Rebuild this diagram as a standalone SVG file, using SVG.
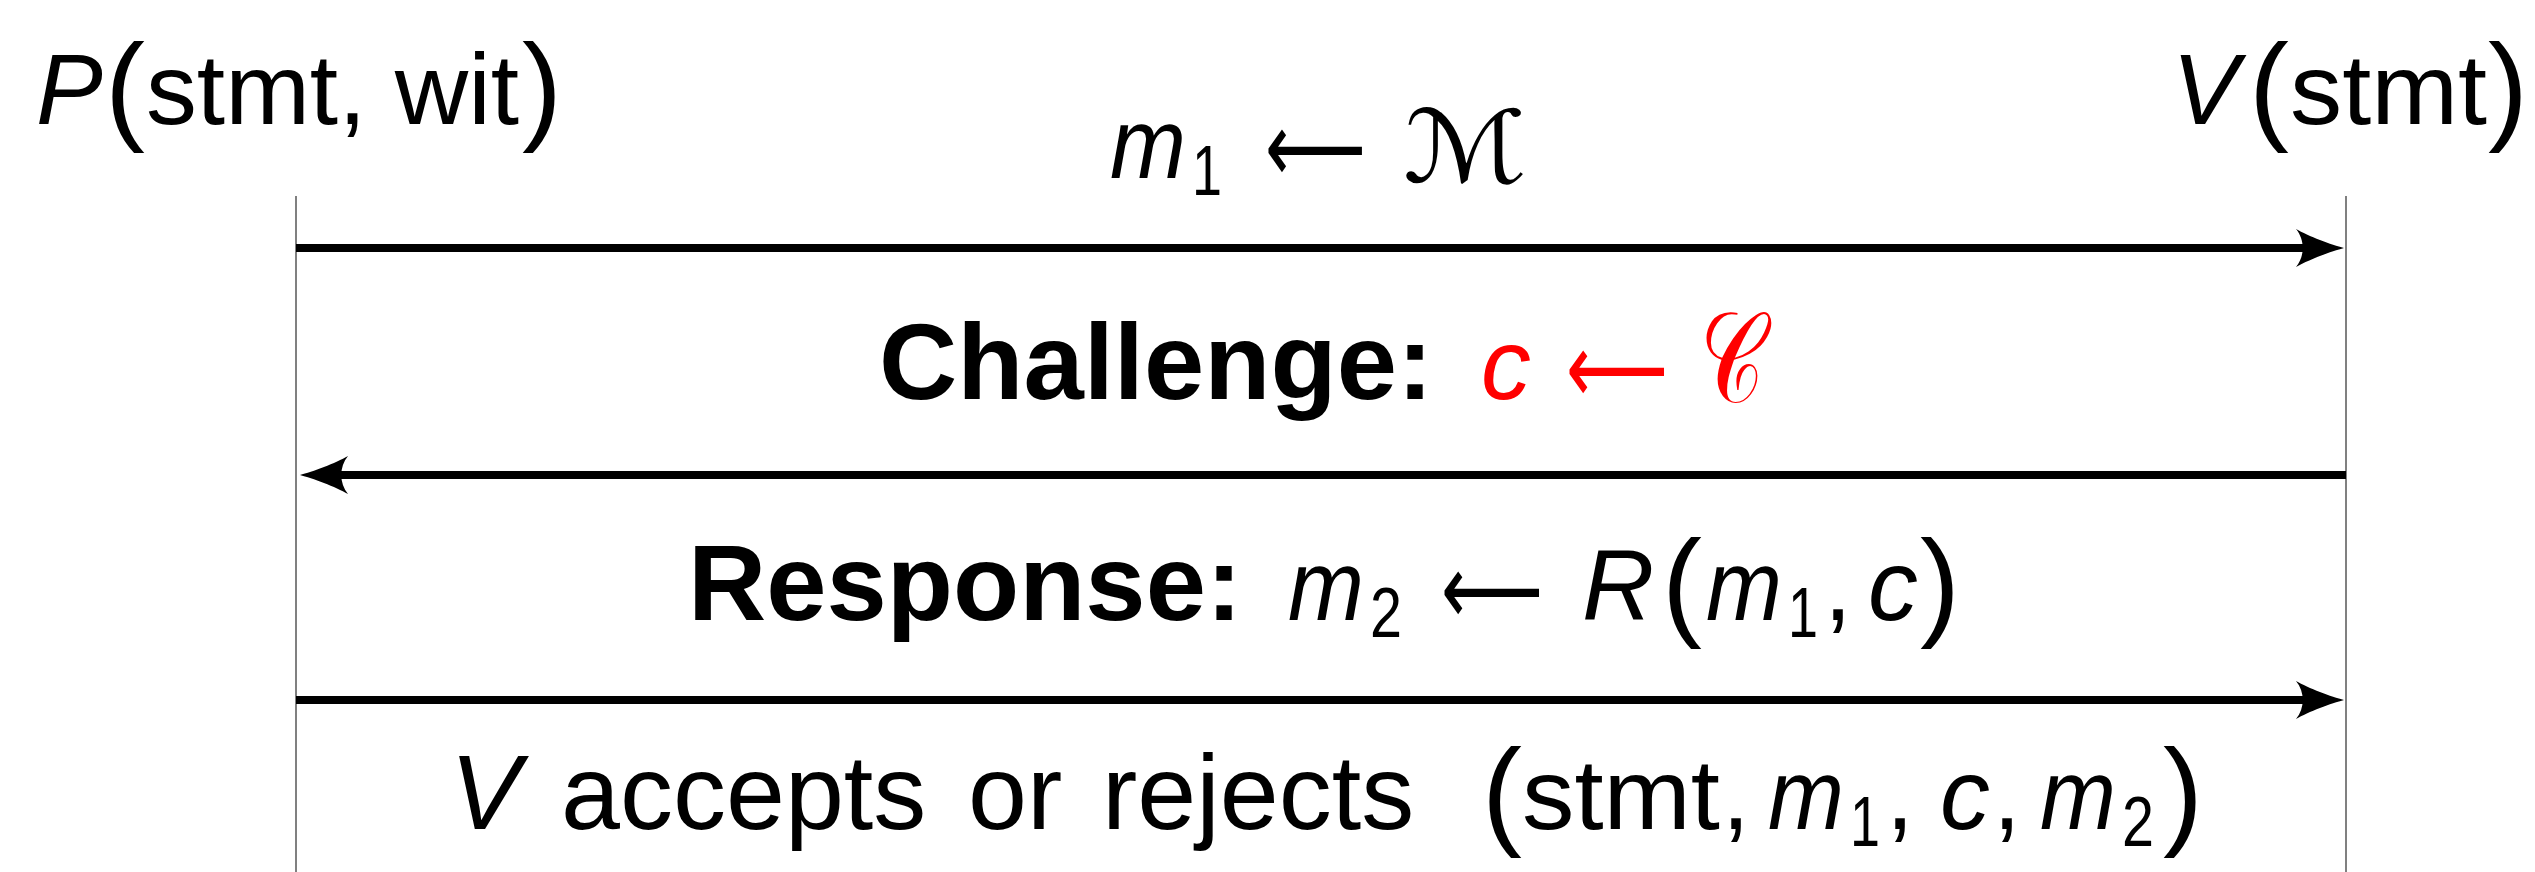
<svg xmlns="http://www.w3.org/2000/svg" width="2535" height="872" viewBox="0 0 2535 872">
<style>
text{font-family:"Liberation Sans",Arial,sans-serif;fill:#000;font-size:100px}
.w{font-size:106px}
.i{font-style:italic}
.b{font-size:107px;font-weight:bold}
.par{font-size:120px}
.sub{font-size:70px}
.arr{font-family:"DejaVu Sans",sans-serif;font-size:100px}
.cal{font-family:"DejaVu Serif","DejaVu Sans",serif;font-size:100px}
.calc{font-size:128px}
.red{fill:#ff0000}
.life{stroke:#808080;stroke-width:2;fill:none}
.msg{stroke:#000;stroke-width:8;fill:none;marker-end:url(#ah)}
</style>
<defs>
<marker id="ah" markerUnits="userSpaceOnUse" markerWidth="50" markerHeight="40" viewBox="0 -20 50 40" refX="20" refY="0" orient="auto">
<path d="M48,0 C36,-3 12,-12 0,-19 C9,-8 9,8 0,19 C12,12 36,3 48,0 Z" fill="#000"/>
</marker>
</defs>
<rect width="2535" height="872" fill="#fff"/>
<g id="prover">
<line class="life" x1="296" y1="196" x2="296" y2="872"/>
<text y="124"><tspan class="i" x="36">P</tspan><tspan class="par" x="105" y="128">(</tspan><tspan x="146" y="124" textLength="373" lengthAdjust="spacingAndGlyphs">stmt, wit</tspan><tspan class="par" x="522" y="128">)</tspan></text>
</g>
<g id="verifier">
<line class="life" x1="2346" y1="196" x2="2346" y2="872"/>
<text y="124"><tspan class="i" x="2172">V</tspan><tspan class="par" x="2249" y="128">(</tspan><tspan x="2290" y="124" textLength="197" lengthAdjust="spacingAndGlyphs">stmt</tspan><tspan class="par" x="2488" y="128">)</tspan></text>
</g>
<g id="connectors">
<line class="msg" x1="296" y1="248" x2="2316" y2="248"/>
<line class="msg" x1="2346" y1="475" x2="328" y2="475"/>
<line class="msg" x1="296" y1="700" x2="2316" y2="700"/>
</g>
<g id="msg1-label">
<text y="178"><tspan class="i" x="1110" textLength="76" lengthAdjust="spacingAndGlyphs">m</tspan><tspan class="sub" x="1192" y="195" textLength="30" lengthAdjust="spacingAndGlyphs">1</tspan><tspan class="arr" x="1265" y="182" textLength="101" lengthAdjust="spacingAndGlyphs">⟵</tspan><tspan class="cal" x="1403" y="182" textLength="124" lengthAdjust="spacingAndGlyphs">ℳ</tspan></text>
</g>
<g id="challenge-label">
<text y="399"><tspan class="b" x="879" textLength="554" lengthAdjust="spacingAndGlyphs">Challenge:</tspan><tspan class="i red" x="1481" y="399">c</tspan><tspan class="arr red" x="1566" y="403" textLength="102" lengthAdjust="spacingAndGlyphs">⟵</tspan><tspan class="cal calc red" x="1700" y="402" textLength="64" lengthAdjust="spacingAndGlyphs">𝒞</tspan></text>
</g>
<g id="response-label">
<text y="620"><tspan class="b" x="688" textLength="554" lengthAdjust="spacingAndGlyphs">Response:</tspan><tspan class="i" x="1288" y="620" textLength="76" lengthAdjust="spacingAndGlyphs">m</tspan><tspan class="sub" x="1370" y="637" textLength="32" lengthAdjust="spacingAndGlyphs">2</tspan><tspan class="arr" x="1441" y="624" textLength="102" lengthAdjust="spacingAndGlyphs">⟵</tspan><tspan class="i" x="1582" y="620">R</tspan><tspan class="par" x="1662" y="624">(</tspan><tspan class="i" x="1706" y="620" textLength="76" lengthAdjust="spacingAndGlyphs">m</tspan><tspan class="sub" x="1788" y="637" textLength="30" lengthAdjust="spacingAndGlyphs">1</tspan><tspan x="1824" y="620">,</tspan><tspan class="i" x="1868" y="620">c</tspan><tspan class="par" x="1920" y="624">)</tspan></text>
</g>
<g id="outcome-label">
<text y="829"><tspan class="w i" x="450">V</tspan><tspan class="w" x="561">accepts</tspan><tspan class="w" x="968">or</tspan><tspan class="w" x="1102">rejects</tspan><tspan class="par" x="1482" y="833">(</tspan><tspan x="1522" y="829" textLength="198" lengthAdjust="spacingAndGlyphs">stmt</tspan><tspan x="1722">,</tspan><tspan class="i" x="1768" textLength="76" lengthAdjust="spacingAndGlyphs">m</tspan><tspan class="sub" x="1850" y="846" textLength="30" lengthAdjust="spacingAndGlyphs">1</tspan><tspan x="1886" y="829">,</tspan><tspan class="i" x="1940">c</tspan><tspan x="1993">,</tspan><tspan class="i" x="2040" textLength="76" lengthAdjust="spacingAndGlyphs">m</tspan><tspan class="sub" x="2122" y="846" textLength="32" lengthAdjust="spacingAndGlyphs">2</tspan><tspan class="par" x="2163" y="833">)</tspan></text>
</g>
</svg>
